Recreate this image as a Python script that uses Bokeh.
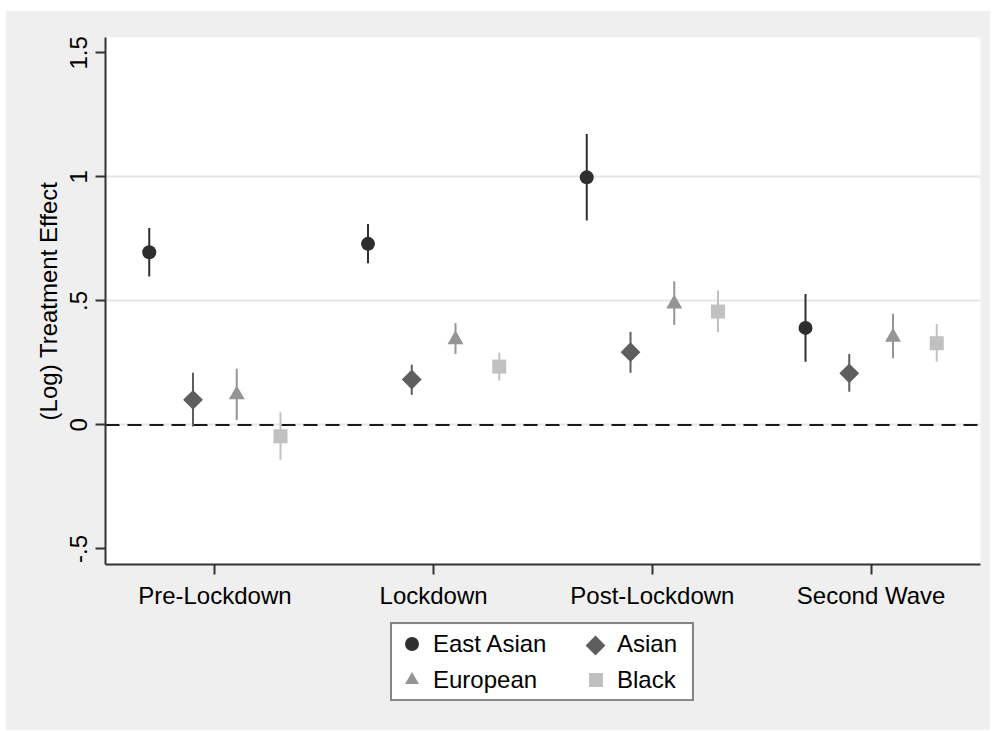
import math

from bokeh.plotting import figure
from bokeh.layouts import column
from bokeh.models import (ColumnDataSource, FactorRange, Range1d, FixedTicker,
                          Span, Legend, LegendItem, BoxAnnotation)
from bokeh.transform import dodge
from bokeh.embed import file_html
from bokeh.resources import INLINE

periods = ["Pre-Lockdown", "Lockdown", "Post-Lockdown", "Second Wave"]
groups = ["East Asian", "Asian", "European", "Black"]

# point estimates and confidence bounds
east_asian_est = [0.696, 0.730, 0.998, 0.391]
east_asian_lo = [0.598, 0.652, 0.824, 0.255]
east_asian_hi = [0.794, 0.810, 1.173, 0.528]

asian_est = [0.101, 0.183, 0.293, 0.208]
asian_lo = [-0.007, 0.121, 0.210, 0.134]
asian_hi = [0.210, 0.243, 0.375, 0.286]

european_est = [0.122, 0.344, 0.488, 0.354]
european_lo = [0.020, 0.286, 0.403, 0.269]
european_hi = [0.226, 0.410, 0.579, 0.448]

black_est = [-0.046, 0.235, 0.457, 0.329]
black_lo = [-0.141, 0.179, 0.373, 0.255]
black_hi = [0.051, 0.291, 0.542, 0.407]

y_ticks = [-0.5, 0, 0.5, 1, 1.5]
y_tick_labels = ["-.5", "0", ".5", "1", "1.5"]

FONT = "Liberation Sans"
BG = "#efefef"

# marker styling per group
styles = {
    "East Asian": dict(color="#2e2e2e", marker="circle", size=14, angle=0, offset=-0.3),
    "Asian": dict(color="#5e5e5e", marker="square", size=14, angle=math.pi / 4, offset=-0.1),
    "European": dict(color="#959595", marker="triangle", size=16, angle=0, offset=0.1),
    "Black": dict(color="#c1c1c1", marker="square", size=14, angle=0, offset=0.3),
}
series = {
    "East Asian": (east_asian_est, east_asian_lo, east_asian_hi),
    "Asian": (asian_est, asian_lo, asian_hi),
    "European": (european_est, european_lo, european_hi),
    "Black": (black_est, black_lo, black_hi),
}

p = figure(width=984, height=603,
           x_range=FactorRange(factors=periods),
           y_range=Range1d(-0.563, 1.562),
           min_border_left=99, min_border_right=10,
           min_border_top=26, min_border_bottom=50,
           output_backend="svg", toolbar_location=None)

p.background_fill_color = "white"
p.border_fill_color = BG
p.outline_line_color = None

# axes
for ax in (p.xaxis, p.yaxis):
    ax.axis_line_color = "#333333"
    ax.axis_line_width = 2
    ax.major_tick_line_color = "#333333"
    ax.major_tick_line_width = 2
    ax.major_tick_out = 10
    ax.major_tick_in = 0
    ax.minor_tick_line_color = None
    ax.major_label_text_font = FONT
    ax.major_label_text_font_size = "24px"
    ax.major_label_text_color = "black"

p.xaxis.major_label_standoff = 7

p.yaxis.ticker = FixedTicker(ticks=y_ticks)
p.yaxis.major_label_overrides = dict(zip(y_ticks, y_tick_labels))
p.yaxis.major_label_orientation = "vertical"
p.yaxis.major_label_standoff = 8
p.yaxis.axis_label = "(Log) Treatment Effect"
p.yaxis.axis_label_text_font = FONT
p.yaxis.axis_label_text_font_size = "24px"
p.yaxis.axis_label_text_font_style = "normal"
p.yaxis.axis_label_text_color = "black"
p.yaxis.axis_label_standoff = 6

p.xgrid.visible = False
p.ygrid.ticker = FixedTicker(ticks=[0, 0.5, 1])
p.ygrid.grid_line_color = "#e6e6e6"
p.ygrid.grid_line_width = 2

zero = Span(location=0, dimension="width", line_color="#1a1a1a",
            line_width=2, line_dash="14 8", level="underlay")
p.add_layout(zero)

# strip under the chart that holds the legend (same side borders as p),
# its ranges are in pixels of its own frame (875 x 116)
leg = figure(width=984, height=116,
             x_range=Range1d(0, 875), y_range=Range1d(0, 116),
             x_axis_type=None, y_axis_type=None,
             min_border_left=99, min_border_right=10,
             min_border_top=0, min_border_bottom=0,
             output_backend="svg", toolbar_location=None)
leg.background_fill_color = BG
leg.border_fill_color = BG
leg.outline_line_color = None

# white legend box, drawn beneath the keys
leg.add_layout(BoxAnnotation(left=286, right=586, bottom=30, top=106,
                             fill_color="white", fill_alpha=1,
                             line_color=None, level="underlay"))

keys = {}
for g in groups:
    est, lo, hi = series[g]
    st = styles[g]
    src = ColumnDataSource(dict(period=periods, est=est, lo=lo, hi=hi))
    xpos = dodge("period", st["offset"], range=p.x_range)
    p.segment(x0=xpos, y0="lo", x1=xpos, y1="hi", source=src,
              line_color=st["color"], line_width=2)
    p.scatter(x=xpos, y="est", source=src, marker=st["marker"],
              size=st["size"], angle=st["angle"],
              fill_color=st["color"], line_color=None)
    # hidden twin in the legend strip, only used for the legend key;
    # the rotated key is drawn separately since legends ignore angle
    keys[g] = leg.scatter(x=xpos, y="est", source=src, marker=st["marker"],
                          size=st["size"],
                          fill_color=st["color"], line_color=None, visible=False,
                          fill_alpha=0 if st["angle"] else 1)

# diamond key for "Asian" (frame pixels: 490 from left, 85 from bottom)
st = styles["Asian"]
leg.scatter(x=[490], y=[85], marker=st["marker"], size=st["size"],
            angle=st["angle"], fill_color=st["color"], line_color=None)

legend_kw = dict(orientation="vertical", glyph_width=35, glyph_height=35,
                 spacing=1, padding=2, label_standoff=4, margin=0,
                 label_text_font=FONT, label_text_font_size="24px",
                 label_text_color="black", inactive_fill_alpha=0,
                 click_policy="none", background_fill_alpha=0)

# left column carries the border, right column sits inside it
legend_a = Legend(items=[LegendItem(label="East Asian", renderers=[keys["East Asian"]]),
                         LegendItem(label="European", renderers=[keys["European"]])],
                  location=(285, 29), label_width=257,
                  border_line_color="#1a1a1a", border_line_width=2,
                  **legend_kw)
legend_b = Legend(items=[LegendItem(label="Asian", renderers=[keys["Asian"]]),
                         LegendItem(label="Black", renderers=[keys["Black"]])],
                  location=(473, 33), border_line_color=None,
                  **legend_kw)
leg.add_layout(legend_a)
leg.add_layout(legend_b)

page = column(p, leg, spacing=0, margin=(11, 0, 0, 6),
              styles={"background-color": BG})

open("out.html", "w").write(file_html(page, INLINE))
